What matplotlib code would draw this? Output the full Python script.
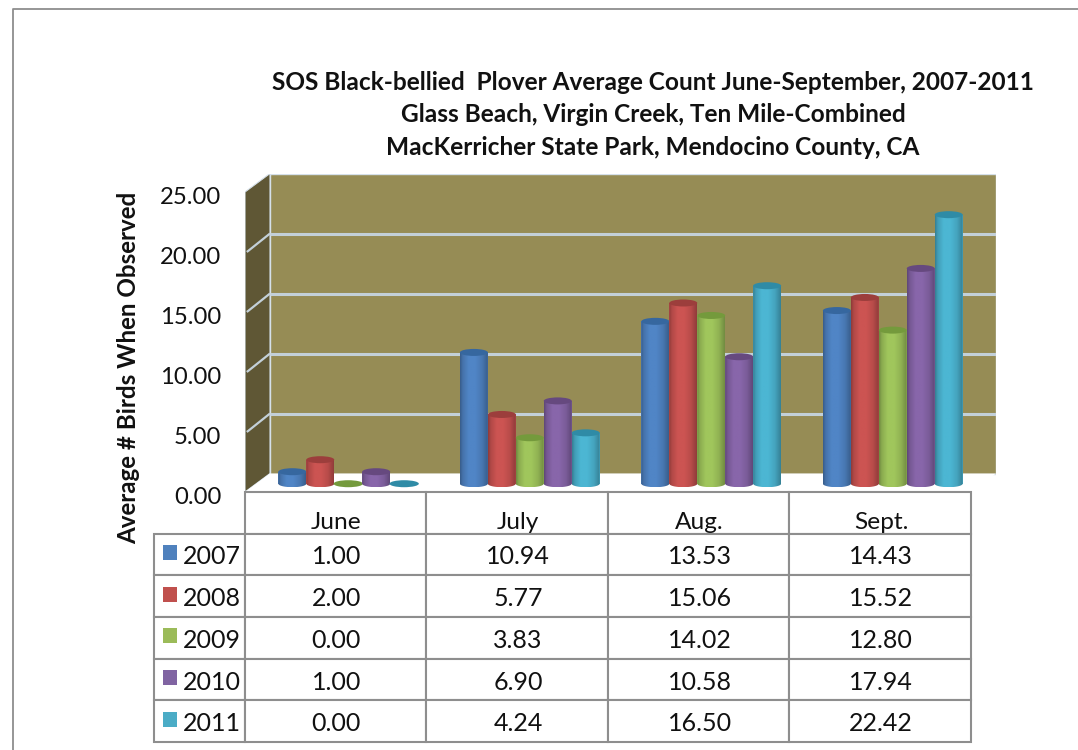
import numpy as np
import matplotlib
matplotlib.use("Agg")
import matplotlib.pyplot as plt
from matplotlib.colors import to_rgb
from matplotlib.lines import Line2D
from matplotlib.patches import Ellipse, Polygon, Rectangle
from matplotlib.transforms import Affine2D, ScaledTranslation

plt.rcParams['font.family'] = ['Lato', 'DejaVu Sans']

months = ['June', 'July', 'Aug.', 'Sept.']
years = ['2007', '2008', '2009', '2010', '2011']
v2007 = [1.00, 10.94, 13.53, 14.43]
v2008 = [2.00, 5.77, 15.06, 15.52]
v2009 = [0.00, 3.83, 14.02, 12.80]
v2010 = [1.00, 6.90, 10.58, 17.94]
v2011 = [0.00, 4.24, 16.50, 22.42]
series = [v2007, v2008, v2009, v2010, v2011]
yticks = [0, 5, 10, 15, 20, 25]

body_colors = ['#5085C6', '#CC5452', '#A0C65C', '#8866AA', '#4CB6D3']
top_colors = ['#36679F', '#9C3E3C', '#749A3C', '#66497F', '#2F8BA6']
swatch_colors = ['#4F81BD', '#C0504D', '#9BBB59', '#8064A2', '#4BACC6']
WALL = '#968C55'
SIDE = '#5F5735'
GRID = '#C3D0D8'
LINE = '#8E8E8E'
W, H = 1078, 750

# the 3d look: back wall sits this far up and right of the front plane
DX = 25 / 181.5
DY = 18.5 / 12
BAR_W = 0.154
EH = 3.5 / 12  # half height of the bar ellipses


def shade(color, amount):
    return np.array(to_rgb(color)) * amount


fig = plt.figure(figsize=(W / 100, H / 100), dpi=100)
ax = fig.add_axes([245 / W, (H - 492) / H, 751 / W, 318.5 / H])
ax.set_xlim(0, 4 + DX)
ax.set_ylim(0, 25 + DY)
ax.set_frame_on(False)
ax.set_xticks([])
ax.set_yticks(yticks, [f'{t:.2f}' for t in yticks], fontsize=17.2, color='#111111')
ax.tick_params(axis='y', length=0, pad=17)
for lbl in ax.get_yticklabels():
    lbl.set_transform(lbl.get_transform() + ScaledTranslation(0, -3 / 100, fig.dpi_scale_trans))
ax.set_ylabel('Average # Birds When Observed', fontsize=17.4, fontweight='bold', color='#111111')
ax.yaxis.set_label_coords((140 - 245) / 751, (492 - 368) / 318.5)

# walls and floor
ax.add_patch(Rectangle((DX, DY), 4, 25, facecolor=WALL, edgecolor='#D5E0EA', lw=1, zorder=1))
ax.add_patch(Polygon([(0, 0), (0, 25), (DX, 25 + DY), (DX, DY)], facecolor=SIDE, edgecolor='#D5E0EA', lw=0.8, zorder=1))
ax.add_patch(Polygon([(0, 0), (DX, DY), (4 + DX, DY), (4, 0)], facecolor='white', edgecolor='none', zorder=1))
for t in yticks[1:-1]:
    ax.plot([DX, 4 + DX], [t + DY, t + DY], color=GRID, lw=2.2, zorder=2, solid_capstyle='butt')
    ax.plot([0.01, DX], [t, t + DY], color=GRID, lw=1.6, zorder=2, solid_capstyle='butt')

# cylinders, drawn at mid depth
gradient_pos = np.array([0, 0.08, 0.3, 0.55, 0.8, 1.0])
gradient_amt = np.array([0.72, 0.86, 1.0, 1.0, 0.9, 0.72])
xs = np.linspace(0, 1, 24)
for i, vals in enumerate(series):
    z = 3 + i
    for j, v in enumerate(vals):
        x0 = j + (1 - 5 * BAR_W) / 2 + DX / 2 + i * BAR_W
        base = DY / 2 - 0.08
        xc = x0 + BAR_W / 2
        if v == 0:
            ax.add_patch(Ellipse((xc, base), BAR_W * 1.05, 2 * EH, facecolor=top_colors[i], edgecolor='none', zorder=z))
            continue
        ax.bar(x0, v, BAR_W, bottom=base, align='edge', color=body_colors[i], zorder=z)
        t = np.linspace(np.pi, 2 * np.pi, 30)
        outline = np.column_stack([xc + BAR_W / 2 * np.cos(t), base + EH * np.sin(t)])
        outline = np.vstack([outline, [x0 + BAR_W, base + v], [x0, base + v]])
        clip = Polygon(outline, closed=True, transform=ax.transData)
        amt = np.interp(xs, gradient_pos, gradient_amt)
        grad = np.clip(np.outer(amt, shade(body_colors[i], 1.0)), 0, 1)[np.newaxis, :, :]
        im = ax.imshow(grad, extent=(x0, x0 + BAR_W, base - EH, base + v), aspect='auto',
                       interpolation='bilinear', zorder=z + 0.1)
        im.set_clip_path(clip)
        ax.add_patch(Ellipse((xc, base + v), BAR_W, 2 * EH, facecolor=top_colors[i], edgecolor='none', zorder=z + 0.2))
ax.set_xlim(0, 4 + DX)
ax.set_ylim(0, 25 + DY)

# data table under the chart, its axes use picture pixels
tab = fig.add_axes([154 / W, (H - 742) / H, 817 / W, 250 / H])
tab.set_xlim(154, 971)
tab.set_ylim(742, 492)
tab.axis('off')
cells = [[''] + months]
for year, vals in zip(years, series):
    cells.append([year] + [f'{v:.2f}' for v in vals])
table = tab.table(cellText=cells, bbox=[0, 0, 1, 1], colWidths=[90.5, 181.5, 181.5, 181.5, 181.5], cellLoc='center')
table.auto_set_font_size(False)
table.set_fontsize(18)
for (r, c), cell in table.get_celld().items():
    cell.set_edgecolor(LINE)
    cell.set_linewidth(1.5)
    text = cell.get_text()
    text.set_color('#111111')
    # cell text is placed in pixels, these nudge it down like the reference
    if r == 0:
        text.set_fontsize(17.6)
        text.set_transform(Affine2D().translate(1, -10))
    else:
        text.set_transform(Affine2D().translate(1, -2.5))
    if r == 0 and c == 0:
        cell.visible_edges = ''
    if r > 0 and c == 0:
        text.set_ha('right')
        cell.PAD = 0.05
for i, color in enumerate(swatch_colors):
    yc = 492 + 41.67 * (i + 1.5) - 2
    tab.add_patch(Rectangle((163, yc - 7.5), 14, 15, facecolor=color, edgecolor='none', zorder=5))

fig.text(653 / W, 1 - 115 / H,
         'SOS Black-bellied  Plover Average Count June-September, 2007-2011\n'
         'Glass Beach, Virgin Creek, Ten Mile-Combined\n'
         'MacKerricher State Park, Mendocino County, CA',
         ha='center', va='center', ma='center', fontsize=17.55, fontweight='bold',
         linespacing=1.49, color='#111111')

# outer chart border
fig.add_artist(Line2D([13 / W, 13 / W, 1], [0, 1 - 9 / H, 1 - 9 / H], color=LINE, lw=1.3))

fig.savefig('out.png', dpi=100, facecolor='white')
